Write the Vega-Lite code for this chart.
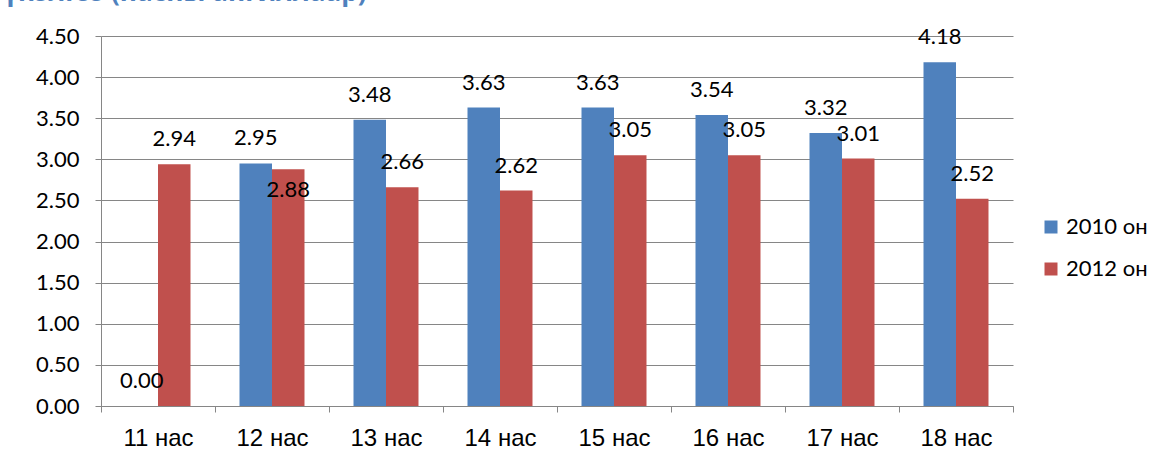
{
  "$schema": "https://vega.github.io/schema/vega-lite/v6.json",
  "width": 912,
  "height": 370,
  "autosize": "none",
  "padding": {"left": 101, "top": 36, "right": 153, "bottom": 70},
  "background": "white",
  "title": {
    "text": "үнэлгээ (насны ангиллаар)",
    "anchor": "start",
    "frame": "group",
    "orient": "top",
    "offset": 0,
    "dx": -98,
    "dy": 2,
    "baseline": "alphabetic",
    "font": "Open Sans",
    "fontSize": 26,
    "fontWeight": "bold",
    "color": "#4F81BD"
  },
  "data": {
    "values": [
      {"age": "11 нас", "year": "2010 он", "value": 0.00},
      {"age": "11 нас", "year": "2012 он", "value": 2.94},
      {"age": "12 нас", "year": "2010 он", "value": 2.95},
      {"age": "12 нас", "year": "2012 он", "value": 2.88},
      {"age": "13 нас", "year": "2010 он", "value": 3.48},
      {"age": "13 нас", "year": "2012 он", "value": 2.66},
      {"age": "14 нас", "year": "2010 он", "value": 3.63},
      {"age": "14 нас", "year": "2012 он", "value": 2.62},
      {"age": "15 нас", "year": "2010 он", "value": 3.63},
      {"age": "15 нас", "year": "2012 он", "value": 3.05},
      {"age": "16 нас", "year": "2010 он", "value": 3.54},
      {"age": "16 нас", "year": "2012 он", "value": 3.05},
      {"age": "17 нас", "year": "2010 он", "value": 3.32},
      {"age": "17 нас", "year": "2012 он", "value": 3.01},
      {"age": "18 нас", "year": "2010 он", "value": 4.18},
      {"age": "18 нас", "year": "2012 он", "value": 2.52}
    ]
  },
  "encoding": {
    "x": {
      "field": "age",
      "type": "nominal",
      "sort": null,
      "scale": {"paddingInner": 0, "paddingOuter": 0},
      "axis": {
        "title": null,
        "labelAngle": 0,
        "labelFont": "Liberation Sans",
        "labelFontSize": 24,
        "labelColor": "#000000",
        "labelPadding": 14,
        "tickBand": "extent",
        "tickSize": 6,
        "tickColor": "#868686",
        "domainColor": "#868686",
        "grid": false
      }
    },
    "xOffset": {
      "field": "year",
      "type": "nominal",
      "scale": {"paddingInner": 0, "paddingOuter": 0.754}
    },
    "y": {
      "field": "value",
      "type": "quantitative",
      "scale": {"domain": [0, 4.5], "nice": false},
      "axis": {
        "title": null,
        "values": [0, 0.5, 1, 1.5, 2, 2.5, 3, 3.5, 4, 4.5],
        "format": ".2f",
        "labelFont": "Lato",
        "labelFontSize": 22,
        "labelColor": "#000000",
        "labelPadding": 16,
        "tickSize": 6,
        "tickColor": "#868686",
        "domainColor": "#868686",
        "grid": true,
        "gridColor": "#868686",
        "gridOpacity": 1
      }
    }
  },
  "layer": [
    {
      "mark": {"type": "bar"},
      "encoding": {
        "color": {
          "field": "year",
          "type": "nominal",
          "scale": {"domain": ["2010 он", "2012 он"], "range": ["#4F81BD", "#C0504D"]},
          "legend": {
            "title": null,
            "orient": "none",
            "legendX": 939,
            "legendY": 180,
            "symbolType": "square",
            "symbolSize": 169,
            "symbolStrokeWidth": 0,
            "labelFont": "Lato",
            "labelFontSize": 22,
            "labelColor": "#000000",
            "rowPadding": 20,
            "labelOffset": 4
          }
        }
      }
    },
    {
      "transform": [{"filter": "!(datum.age == '12 нас' && datum.year == '2012 он')"}],
      "mark": {"type": "text", "dy": -25, "baseline": "middle", "font": "Lato", "fontSize": 22, "color": "#000000"},
      "encoding": {
        "text": {"field": "value", "type": "quantitative", "format": ".2f"}
      }
    },
    {
      "transform": [{"filter": "datum.age == '12 нас' && datum.year == '2012 он'"}],
      "mark": {"type": "text", "dy": 21, "baseline": "middle", "font": "Lato", "fontSize": 22, "color": "#000000"},
      "encoding": {
        "text": {"field": "value", "type": "quantitative", "format": ".2f"}
      }
    }
  ],
  "config": {
    "view": {"stroke": null}
  }
}
